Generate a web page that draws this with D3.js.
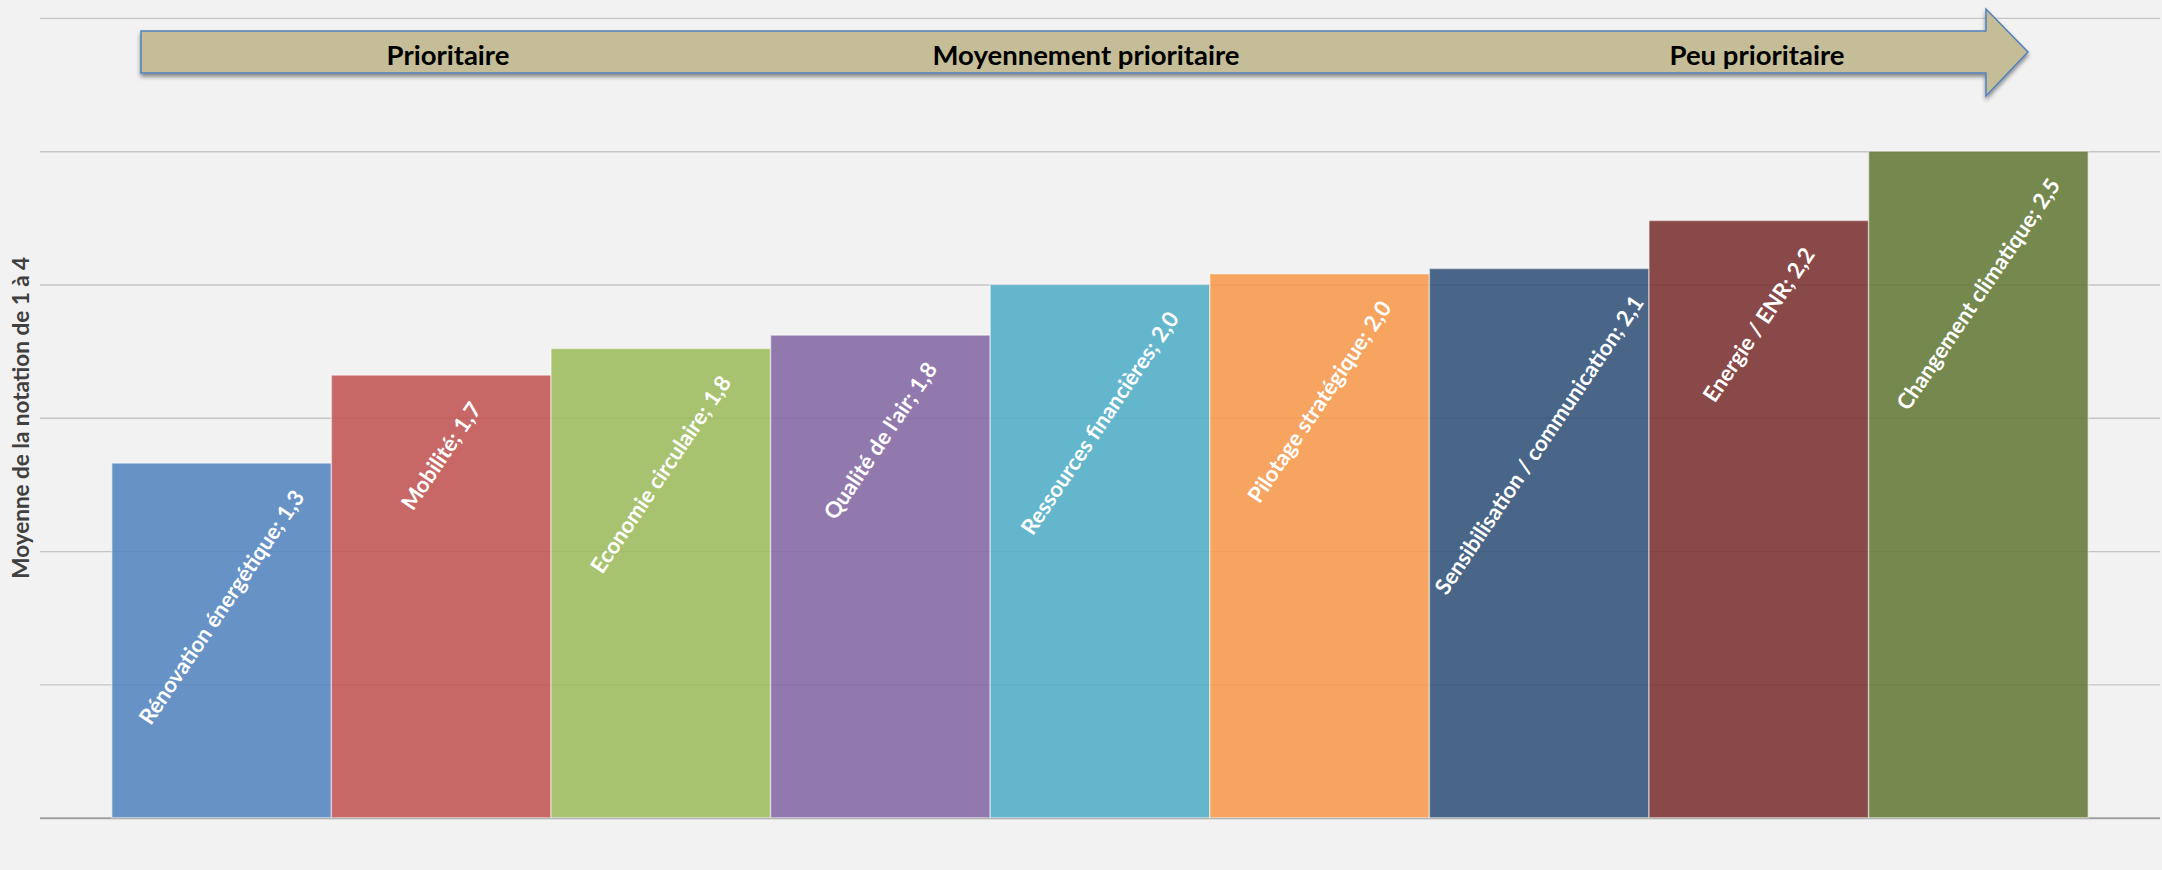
<!DOCTYPE html>
<html>
<head>
<meta charset="utf-8">
<script src="https://cdn.jsdelivr.net/npm/d3@7"></script>
<style>
  html, body { margin: 0; padding: 0; background: #f2f2f2; }
  svg { display: block; }
</style>
</head>
<body>
<svg id="chart"></svg>
<script>
// ---- Data ----
const categories = [
  "Rénovation énergétique",
  "Mobilité",
  "Economie circulaire",
  "Qualité de l'air",
  "Ressources financières",
  "Pilotage stratégique",
  "Sensibilisation / communication",
  "Energie / ENR",
  "Changement climatique"
];
const values = [1.33, 1.66, 1.76, 1.81, 2.0, 2.04, 2.06, 2.24, 2.5];
const colors = ["#4F81BD", "#C0504D", "#9BBB59", "#8064A2", "#4BACC6", "#F79646", "#2C4D75", "#772C2A", "#5F7530"];
const yTicks = [0, 0.5, 1, 1.5, 2, 2.5, 3];
const priorityLabels = ["Prioritaire", "Moyennement prioritaire", "Peu prioritaire"];
const yTitle = "Moyenne de la notation de 1 à 4";

// ---- Layout ----
const W = 2162, H = 870;
const margin = { top: 17.9, right: 2, bottom: 52.3, left: 40 };
const FONT = "Lato, 'Open Sans', sans-serif";

const svg = d3.select("#chart").attr("width", W).attr("height", H);
svg.append("rect").attr("width", W).attr("height", H).attr("fill", "#f2f2f2");

const defs = svg.append("defs");
const f = defs.append("filter").attr("id", "shadow").attr("x", "-5%").attr("y", "-50%").attr("width", "110%").attr("height", "200%");
f.append("feDropShadow").attr("dx", 0).attr("dy", 3).attr("stdDeviation", 2)
  .attr("flood-color", "#000").attr("flood-opacity", 0.45);

const x = d3.scaleBand()
  .domain(categories)
  .range([margin.left, W - margin.right])
  .paddingInner(0)
  .paddingOuter(0.327);

const y = d3.scaleLinear()
  .domain([0, 3])
  .range([H - margin.bottom, margin.top]);

// Gridlines
const grid = svg.append("g")
  .attr("transform", `translate(${margin.left},0)`)
  .call(d3.axisLeft(y).tickValues(yTicks).tickSize(-(W - margin.left - margin.right)).tickFormat(""));
grid.select(".domain").remove();
grid.selectAll(".tick line")
  .attr("stroke", d => d === 0 ? "#a0a0a0" : "#c6c6c6")
  .attr("stroke-width", d => d === 0 ? 2 : 1.4);

// Bars
svg.append("g").selectAll("rect")
  .data(categories)
  .join("rect")
  .attr("x", d => x(d))
  .attr("y", (d, i) => y(values[i]))
  .attr("width", x.bandwidth())
  .attr("height", (d, i) => y(0) - y(values[i]))
  .attr("fill", (d, i) => colors[i])
  .attr("fill-opacity", 0.85)
  .attr("stroke", "#ffffff")
  .attr("stroke-opacity", 0.45)
  .attr("stroke-width", 1.5);

// Bar labels (rotated, inside end)
const fmt = v => d3.format(".1f")(v).replace(".", ",");
const fs = 22;
const ang = -56;
const sinA = Math.sin(-ang * Math.PI / 180), cosA = Math.cos(-ang * Math.PI / 180);
const labels = svg.append("g").selectAll("text")
  .data(categories)
  .join("text")
  .attr("text-anchor", "middle")
  .attr("dy", "0.35em")
  .attr("font-family", FONT)
  .attr("font-weight", "bold")
  .attr("font-size", fs)
  .attr("fill", "#ffffff")
  .text((d, i) => `${d}; ${fmt(values[i])}`);
labels.each(function(d, i) {
  const L = this.getComputedTextLength();
  const cx = x(d) + x.bandwidth() / 2;
  const cy = y(values[i]) + 25 + sinA * L / 2 + 0.37 * fs * cosA;
  d3.select(this).attr("transform", `translate(${cx},${cy}) rotate(${ang})`);
});

// Y axis title
svg.append("text")
  .attr("transform", `translate(21,${(y(0) + y(3)) / 2}) rotate(-90)`)
  .attr("text-anchor", "middle")
  .attr("dy", "0.35em")
  .attr("font-family", FONT)
  .attr("font-weight", "bold")
  .attr("font-size", 22.5)
  .attr("fill", "#404040")
  .text(yTitle);

// Priority arrow
const aL = 141, aTip = 2028, aBase = 1986, sTop = 31, sBot = 73, hTop = 9, hBot = 96;
const aMid = (sTop + sBot) / 2;
svg.append("path")
  .attr("d", `M${aL},${sTop} L${aBase},${sTop} L${aBase},${hTop} L${aTip},${aMid} L${aBase},${hBot} L${aBase},${sBot} L${aL},${sBot} Z`)
  .attr("fill", "#c4bd97")
  .attr("stroke", "#4f81bd")
  .attr("stroke-width", 1.5)
  .attr("filter", "url(#shadow)");

const labelX = [448, 1086, 1757];
svg.append("g").selectAll("text")
  .data(priorityLabels)
  .join("text")
  .attr("x", (d, i) => labelX[i])
  .attr("y", 65)
  .attr("text-anchor", "middle")
  .attr("font-family", FONT)
  .attr("font-weight", "bold")
  .attr("font-size", 27.5)
  .attr("fill", "#000000")
  .text(d => d);
</script>
</body>
</html>
